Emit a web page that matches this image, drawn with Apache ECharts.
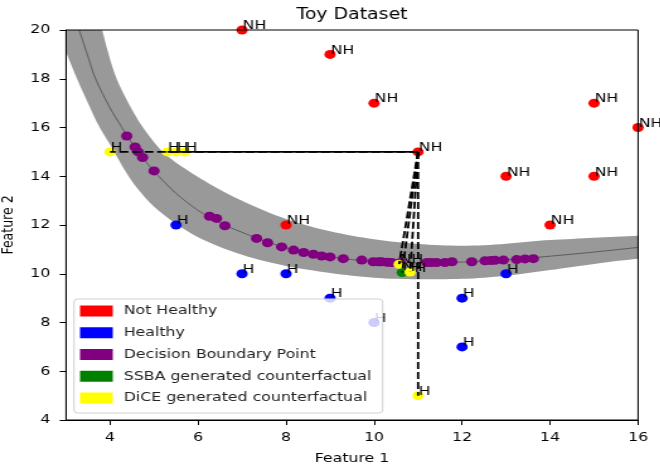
<!DOCTYPE html>
<html>
<head>
<meta charset="utf-8">
<script src="https://cdn.jsdelivr.net/npm/echarts@6/dist/echarts.min.js"></script>
<style>
  html, body { margin: 0; padding: 0; background: #fff; overflow: hidden; }
  /* the reference picture is stretched sideways, so draw narrow and stretch */
  #chart { width: 524px; height: 468px; transform: scaleX(1.26); transform-origin: 0 0; }
</style>
</head>
<body>
<div id="chart"></div>
<script>
const xTicks = [4, 6, 8, 10, 12, 14, 16];

const notHealthy = [[7, 20], [9, 19], [10, 17], [11, 15], [15, 17], [16, 16], [13, 14], [15, 14], [14, 12], [8, 12]];
const healthy = [[5.5, 12], [7, 10], [8, 10], [9, 9], [10, 8], [12, 9], [12, 7], [13, 10]];
const boundaryPts = [[4.38, 15.65], [4.57, 15.2], [4.64, 15.0], [4.74, 14.77], [5.0, 14.22], [6.26, 12.36], [6.42, 12.27],
  [6.61, 11.97], [7.33, 11.45], [7.58, 11.27], [7.9, 11.1], [8.17, 10.97], [8.4, 10.87], [8.62, 10.8], [8.81, 10.73],
  [9.0, 10.69], [9.3, 10.62], [9.72, 10.56], [9.98, 10.49], [10.1, 10.49], [10.17, 10.49], [10.3, 10.47], [10.4, 10.46],
  [10.6, 10.46], [11.2, 10.46], [11.3, 10.46], [11.42, 10.46], [11.61, 10.46], [11.77, 10.49], [12.22, 10.49],
  [12.52, 10.53], [12.65, 10.54], [12.75, 10.55], [12.94, 10.56], [13.24, 10.58], [13.43, 10.61], [13.62, 10.62]];
const ssbaPts = [[10.64, 10.05]];
const ssbaLabels = ['NH'];
const dicePts = [[4, 15], [5.3, 15], [5.5, 15], [5.7, 15], [10.57, 10.39], [10.82, 10.07], [11, 5]];
const diceLabels = ['H', 'H', 'H', 'H', 'NH', 'H', 'H'];

const cfOrigin = [11, 15];
const solidTargets = [[5.3, 15]];
const dashedTargets = [[4, 15], [10.57, 10.39], [10.64, 10.05], [10.82, 10.07], [11, 5]];

const boundaryCurve = [[3.3, 20], [3.5, 18.9], [3.67, 18.0], [4.0, 16.8], [4.27, 16.0], [4.5, 15.35], [4.75, 14.75],
  [5.0, 14.2], [5.5, 13.3], [6.0, 12.6], [6.5, 12.08], [7.0, 11.7], [7.5, 11.35], [8.0, 11.07], [8.5, 10.85],
  [9.0, 10.69], [9.5, 10.58], [10.0, 10.5], [10.5, 10.46], [11.0, 10.45], [11.5, 10.46], [12.0, 10.48],
  [12.5, 10.52], [13.0, 10.57], [13.5, 10.64], [14.0, 10.72], [15.0, 10.89], [16.0, 11.08]];
// edges of the grey margin band (points above 20 or left of 3 are cut off by the grid)
const bandLower = [[2.9, 19.55], [3.0, 19.1], [3.25, 18.0], [3.5, 17.0], [3.75, 16.05], [4.0, 15.3], [4.3, 14.35],
  [4.6, 13.55], [5.0, 12.75], [5.5, 12.05], [6.0, 11.5], [6.5, 11.1], [7.0, 10.78], [7.5, 10.52], [8.0, 10.32],
  [8.5, 10.16], [9.0, 10.03], [9.5, 9.92], [10.0, 9.84], [10.5, 9.79], [11.0, 9.77], [11.5, 9.77], [12.0, 9.79],
  [12.5, 9.84], [13.0, 9.92], [13.5, 10.03], [14.0, 10.15], [14.5, 10.28], [15.0, 10.4], [15.5, 10.52],
  [16.0, 10.62], [16.2, 10.66]];
const bandUpper = [[2.9, 26], [3.2, 24], [3.5, 22.1], [3.82, 20.0], [3.97, 19.0], [4.15, 18.0], [4.42, 17.0],
  [4.75, 16.0], [5.2, 15.0], [5.8, 14.2], [6.5, 13.45], [7.0, 13.0], [7.5, 12.6], [8.0, 12.25], [8.5, 11.97],
  [9.0, 11.74], [9.5, 11.56], [10.0, 11.42], [10.5, 11.3], [11.0, 11.22], [11.5, 11.17], [12.0, 11.15],
  [12.5, 11.17], [13.0, 11.23], [13.5, 11.31], [14.0, 11.38], [15.0, 11.48], [16.0, 11.56], [16.2, 11.57]];

const FONT = 'DejaVu Sans';

function pointLabel(labels) {
  return {
    show: true,
    position: [5, 7],
    align: 'left',
    verticalAlign: 'bottom',
    fontFamily: FONT,
    fontSize: 12.5,
    color: '#000',
    formatter: p => labels[p.dataIndex]
  };
}

const series = [
  // grey band: area under the upper edge, then white area under the lower edge
  {
    type: 'line', data: bandUpper, smooth: 0.3, showSymbol: false, silent: true, z: 1,
    lineStyle: { width: 0 },
    areaStyle: { color: '#999999', opacity: 1, origin: 'start' }
  },
  {
    type: 'line', data: bandLower, smooth: 0.3, showSymbol: false, silent: true, z: 1.1,
    lineStyle: { width: 0 },
    areaStyle: { color: '#ffffff', opacity: 1, origin: 'start' }
  },
  {
    type: 'line', data: boundaryCurve, smooth: 0.3, showSymbol: false, silent: true, z: 1.5,
    lineStyle: { color: '#4d4d4d', width: 0.8 }
  },
  {
    name: 'Not Healthy', type: 'scatter', data: notHealthy, symbolSize: 9, z: 2.5,
    itemStyle: { color: '#ff0000', opacity: 1 },
    label: pointLabel(notHealthy.map(() => 'NH'))
  },
  {
    name: 'Healthy', type: 'scatter', data: healthy, symbolSize: 9, z: 2.5,
    itemStyle: { color: '#0000ff', opacity: 1 },
    label: pointLabel(healthy.map(() => 'H'))
  },
  {
    name: 'Decision Boundary Point', type: 'scatter', data: boundaryPts, symbolSize: 9, z: 3,
    itemStyle: { color: '#800080', opacity: 1 }
  },
  {
    name: 'SSBA generated counterfactual', type: 'scatter', data: ssbaPts, symbolSize: 9, z: 4,
    itemStyle: { color: '#008000', opacity: 1 },
    label: pointLabel(ssbaLabels)
  },
  {
    name: 'DiCE generated counterfactual', type: 'scatter', data: dicePts, symbolSize: 9, z: 5,
    itemStyle: { color: '#ffff00', opacity: 1 },
    label: pointLabel(diceLabels)
  }
];

solidTargets.forEach(t => series.push({
  type: 'line', data: [cfOrigin, t], showSymbol: false, z: 6,
  lineStyle: { color: '#000', width: 1.8, type: 'solid' }
}));
dashedTargets.forEach(t => series.push({
  type: 'line', data: [cfOrigin, t], showSymbol: false, z: 6,
  lineStyle: { color: '#000', width: 1.8, type: [7, 3] }
}));

const chart = echarts.init(document.getElementById('chart'));
chart.setOption({
  animation: false,
  textStyle: { fontFamily: FONT },
  title: {
    text: 'Toy Dataset',
    left: 279.4,
    top: 8,
    padding: 0,
    textAlign: 'center',
    textStyle: { fontFamily: FONT, fontSize: 15, fontWeight: 'normal', color: '#000' }
  },
  legend: {
    data: ['Not Healthy', 'Healthy', 'Decision Boundary Point', 'SSBA generated counterfactual', 'DiCE generated counterfactual'],
    orient: 'vertical',
    left: 58.7,
    top: 299,
    z: 10,
    icon: 'rect',
    itemWidth: 26,
    itemHeight: 11,
    itemGap: 7.75,
    padding: [5, 9, 8, 4.8],
    backgroundColor: 'rgba(255,255,255,0.8)',
    borderColor: '#d0d0d0',
    borderWidth: 1,
    borderRadius: 3,
    selectedMode: false,
    textStyle: { fontFamily: FONT, fontSize: 12.5, color: '#222', lineHeight: 14, padding: [0, 0, 0, 3.7] }
  },
  grid: {
    left: 52.4, top: 30, width: 454, bottom: 48, z: 8,
    outerBoundsMode: 'none',
    containLabel: false,
    show: true, borderColor: '#000', borderWidth: 1, backgroundColor: 'transparent'
  },
  xAxis: {
    type: 'value',
    min: 3, max: 16,
    z: 8,
    name: 'Feature 1',
    nameLocation: 'middle',
    nameGap: 32.5,
    nameTextStyle: { fontFamily: FONT, fontSize: 12.5, color: '#000' },
    axisLine: { lineStyle: { color: '#000', width: 1 } },
    axisTick: { show: true, length: 5, lineStyle: { color: '#000' }, customValues: xTicks },
    axisLabel: { margin: 11, fontFamily: FONT, fontSize: 12.5, color: '#000', customValues: xTicks },
    splitLine: { show: false }
  },
  yAxis: {
    type: 'value',
    min: 4, max: 20, interval: 2,
    z: 8,
    name: 'Feature 2',
    nameLocation: 'middle',
    nameGap: 31,
    nameTextStyle: { fontFamily: FONT, fontSize: 12.5, color: '#000' },
    axisLine: { show: true, lineStyle: { color: '#000', width: 1 } },
    axisTick: { show: true, length: 5, lineStyle: { color: '#000' } },
    axisLabel: { margin: 12.5, fontFamily: FONT, fontSize: 12.5, color: '#000' },
    splitLine: { show: false }
  },
  series: series
});
</script>
</body>
</html>
